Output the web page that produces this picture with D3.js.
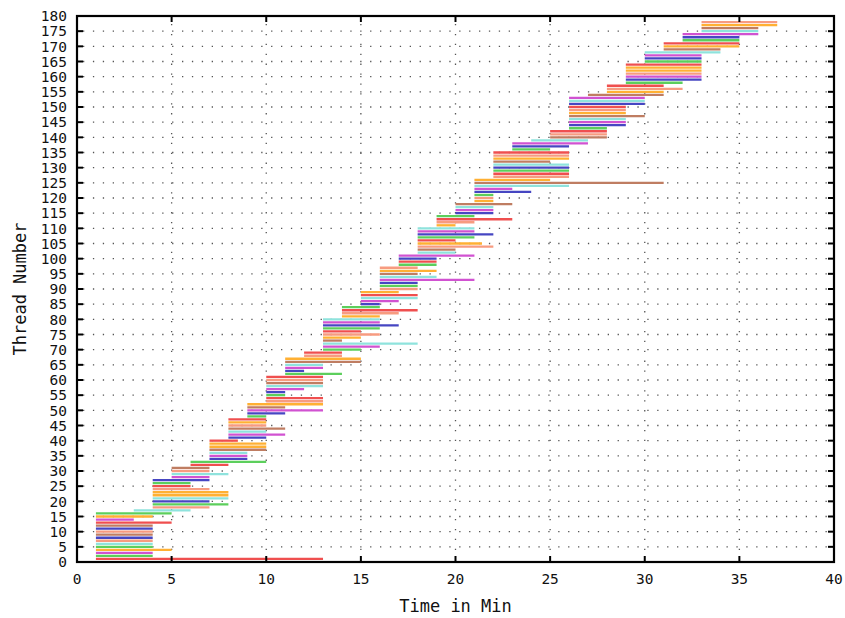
<!DOCTYPE html>
<html>
<head>
<meta charset="utf-8">
<script src="https://cdn.jsdelivr.net/npm/d3@7"></script>
<style>
  body { margin: 0; background: #fff; }
  text { font-family: "DejaVu Sans Mono", monospace; fill: #111; }
</style>
</head>
<body>
<div id="chart"></div>
<script>
// start / end time (min) of each thread, thread 1 .. 178 from bottom to top
const startTimes = [
  1, 1, 1, 1, 1, 1, 1, 1, 1, 1, 1, 1, 1, 1, 1, 1, 3, 4, 4, 4,
  4, 4, 4, 4, 4, 4, 4, 5, 5, 5, 5, 6, 6, 7, 7, 7, 7, 7, 7, 7,
  8, 8, 8, 8, 8, 8, 8, 9, 9, 9, 9, 9, 10, 10, 10, 10, 10, 10, 10, 10,
  10, 11, 11, 11, 11, 11, 11, 12, 12, 13, 13, 13, 13, 13, 13, 13, 13, 13, 13, 13,
  14, 14, 14, 14, 15, 15, 15, 15, 15, 16, 16, 16, 16, 16, 16, 16, 16, 17, 17, 17,
  17, 18, 18, 18, 18, 18, 18, 18, 18, 18, 19, 19, 19, 19, 20, 20, 20, 20, 21, 21,
  21, 21, 21, 21, 21, 21, 22, 22, 22, 22, 22, 22, 22, 22, 22, 23, 23, 23, 24, 25,
  25, 25, 26, 26, 26, 26, 26, 26, 26, 26, 26, 26, 26, 27, 28, 28, 28, 29, 29, 29,
  29, 29, 29, 29, 30, 30, 30, 30, 31, 31, 31, 32, 32, 32, 33, 33, 33, 33
];
const endTimes = [
  13, 4, 4, 5, 4, 4, 4, 4, 4, 4, 4, 4, 5, 3, 4, 5, 6, 7, 8, 7,
  8, 8, 8, 7, 6, 6, 7, 7, 8, 7, 7, 8, 10, 9, 9, 9, 10, 10, 10, 8.5,
  10, 11, 10, 11, 10, 10, 10, 10, 11, 13, 11, 13, 13, 13, 11, 11, 12, 13, 13, 13,
  13, 14, 12, 13, 13, 15, 15, 14, 14, 15, 16, 18, 14, 15, 16, 15, 16, 17, 16, 16,
  16, 17, 18, 16, 16, 17, 18, 18, 17, 18, 18, 18, 21, 19, 18, 19, 18, 19, 19, 19,
  21, 20, 20, 22, 21.4, 20, 21, 22, 21, 21, 20, 21, 23, 21, 22, 22, 22, 23, 22, 22,
  22, 24, 23, 26, 31, 25, 26, 26, 26, 26, 26, 25, 26, 26, 26, 25, 26, 27, 27, 28,
  28, 28, 28, 29, 29, 29, 30, 29, 29, 29, 30, 30, 30, 31, 31, 32, 31, 32, 33, 33,
  33, 33, 33, 33, 33, 33, 33, 34, 34, 35, 35, 35, 35, 36, 36, 36, 37, 37
];
// line type of each thread (0 red, 1 green, 2 blue, 3 magenta, 4 cyan, 5 brown, 6 orange, 7 salmon)
const lineTypes = [
  0, 1, 3, 6, 1, 4, 7, 2, 5, 7, 2, 5, 0, 3, 6, 1, 4, 7, 1, 2,
  4, 6, 6, 7, 0, 1, 2, 3, 4, 7, 5, 0, 1, 2, 3, 4, 5, 6, 6, 0,
  2, 3, 4, 5, 7, 6, 0, 1, 2, 3, 5, 6, 7, 0, 1, 2, 3, 4, 5, 7,
  0, 1, 2, 3, 4, 5, 6, 7, 0, 1, 3, 4, 5, 6, 7, 0, 1, 2, 3, 4,
  6, 7, 0, 1, 2, 3, 4, 0, 6, 7, 1, 2, 3, 4, 5, 6, 7, 1, 0, 2,
  3, 4, 5, 7, 6, 0, 1, 2, 3, 4, 6, 7, 0, 1, 2, 3, 4, 5, 6, 7,
  1, 2, 3, 4, 5, 6, 7, 0, 1, 2, 4, 5, 6, 7, 0, 1, 2, 3, 4, 5,
  7, 0, 1, 2, 3, 4, 5, 6, 7, 0, 2, 4, 3, 5, 6, 7, 0, 1, 2, 3,
  7, 6, 6, 0, 1, 2, 3, 4, 5, 6, 0, 1, 2, 3, 4, 5, 6, 7
];
const xTickValues = [0, 5, 10, 15, 20, 25, 30, 35, 40];
const yTickValues = [0, 5, 10, 15, 20, 25, 30, 35, 40, 45, 50, 55, 60, 65, 70, 75, 80, 85, 90,
  95, 100, 105, 110, 115, 120, 125, 130, 135, 140, 145, 150, 155, 160, 165, 170, 175, 180];

// gnuplot style line type colours
const lineColors = ['#ef4f4f', '#5ccf5c', '#4646c2', '#d152d1', '#8fe3dd', '#bf7d62', '#ffb033', '#f79b80'];

class ThreadChart {
    constructor() {
        this.margin = { top: 16, right: 11, bottom: 56, left: 77 };
        this.width = 845 - this.margin.left - this.margin.right;
        this.height = 618 - this.margin.top - this.margin.bottom;
        this.threads = startTimes.map((s, i) => ({ id: i + 1, start: s, end: endTimes[i], type: lineTypes[i] }));
        this.draw();
    }

    draw() {
        this.xScale = d3.scaleLinear().domain([0, 40]).range([0, this.width]);
        this.yScale = d3.scaleLinear().domain([0, 180]).range([this.height, 0]);

        const svg = d3.select('#chart')
                      .append('svg')
                      .attr('width', 845)
                      .attr('height', 618)
                      .append('g')
                      .attr('transform', `translate(${this.margin.left}, ${this.margin.top})`);

        // dotted grid (behind the bars)
        const grid = svg.append('g')
                        .attr('stroke', '#555')
                        .attr('stroke-width', 1.3)
                        .attr('stroke-dasharray', '1.3 8.6');
        grid.selectAll('.hgrid')
            .data(yTickValues.filter(v => v > 0 && v < 180))
            .join('line')
            .attr('class', 'hgrid')
            .attr('x1', 6).attr('x2', this.width - 6)
            .attr('y1', d => this.yScale(d)).attr('y2', d => this.yScale(d));
        grid.selectAll('.vgrid')
            .data(xTickValues.filter(v => v > 0 && v < 40))
            .join('line')
            .attr('class', 'vgrid')
            .attr('y1', 8).attr('y2', this.height - 6)
            .attr('x1', d => this.xScale(d)).attr('x2', d => this.xScale(d));

        // thread run bars
        svg.append('g')
           .selectAll('line')
           .data(this.threads)
           .join('line')
           .attr('x1', d => this.xScale(d.start))
           .attr('x2', d => this.xScale(d.end))
           .attr('y1', d => this.yScale(d.id))
           .attr('y2', d => this.yScale(d.id))
           .attr('stroke', d => lineColors[d.type])
           .attr('stroke-width', 2.3);

        // axes, ticks inward on all four sides
        const tickLen = 6;
        const ticks = svg.append('g').attr('stroke', '#000').attr('stroke-width', 2);
        xTickValues.filter(v => v > 0 && v < 40).forEach(v => {
            ticks.append('line').attr('x1', this.xScale(v)).attr('x2', this.xScale(v))
                 .attr('y1', this.height).attr('y2', this.height - tickLen);
            ticks.append('line').attr('x1', this.xScale(v)).attr('x2', this.xScale(v))
                 .attr('y1', 0).attr('y2', tickLen);
        });
        yTickValues.filter(v => v > 0 && v < 180).forEach(v => {
            ticks.append('line').attr('y1', this.yScale(v)).attr('y2', this.yScale(v))
                 .attr('x1', 0).attr('x2', tickLen);
            ticks.append('line').attr('y1', this.yScale(v)).attr('y2', this.yScale(v))
                 .attr('x1', this.width).attr('x2', this.width - tickLen);
        });

        svg.append('rect')
           .attr('width', this.width)
           .attr('height', this.height)
           .attr('fill', 'none')
           .attr('stroke', '#000')
           .attr('stroke-width', 2.2);

        // tick labels
        svg.append('g')
           .selectAll('text')
           .data(xTickValues)
           .join('text')
           .attr('x', d => this.xScale(d))
           .attr('y', this.height + 22)
           .attr('text-anchor', 'middle')
           .style('font-size', '14.5px')
           .text(d => d);

        svg.append('g')
           .selectAll('text')
           .data(yTickValues)
           .join('text')
           .attr('x', -10)
           .attr('y', d => this.yScale(d))
           .attr('dy', '0.36em')
           .attr('text-anchor', 'end')
           .style('font-size', '14.5px')
           .text(d => d);

        // axis titles
        svg.append('text')
           .attr('x', this.width / 2)
           .attr('y', this.height + 50)
           .attr('text-anchor', 'middle')
           .style('font-size', '17px')
           .text('Time in Min');

        svg.append('text')
           .attr('transform', `translate(${-51}, ${this.height / 2}) rotate(-90)`)
           .attr('text-anchor', 'middle')
           .style('font-size', '17px')
           .text('Thread Number');
    }
}

new ThreadChart();
</script>
</body>
</html>
